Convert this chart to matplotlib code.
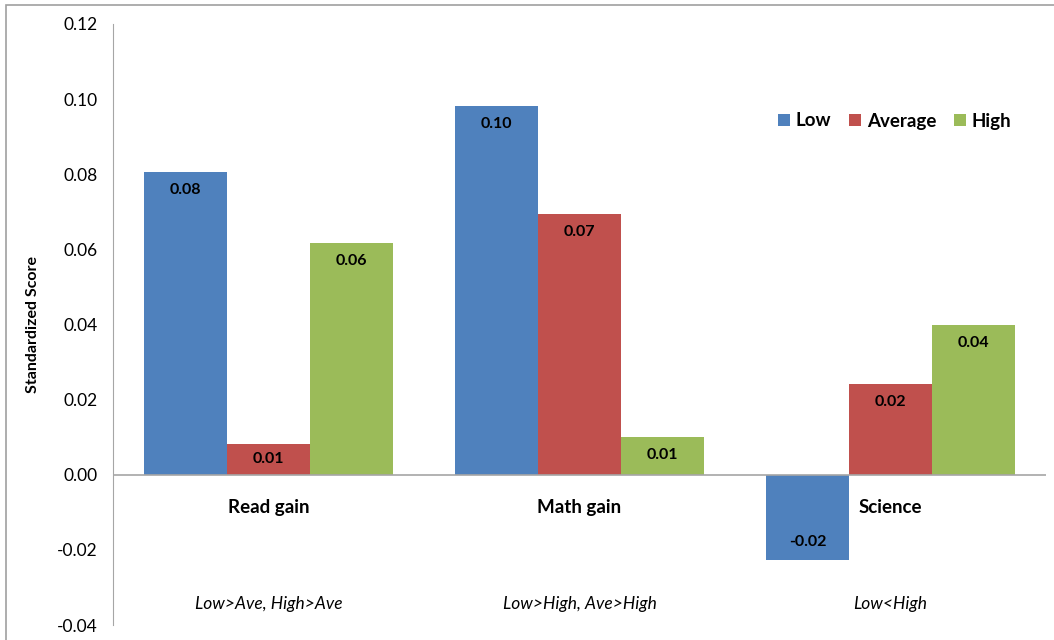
import numpy as n
import matplotlib
matplotlib.use("Agg")
import matplotlib.pyplot as plt
from matplotlib.patches import Rectangle

plt.rcParams['font.family'] = ['Lato', 'DejaVu Sans']

# data
categories = ["Read gain", "Math gain", "Science"]
notes = ["Low>Ave, High>Ave", "Low>High, Ave>High", "Low<High"]
series = ["Low", "Average", "High"]
low_vals = [0.0805, 0.0981, -0.0226]
avg_vals = [0.0082, 0.0694, 0.0242]
high_vals = [0.0617, 0.0101, 0.0399]
yticks = [-0.04, -0.02, 0.00, 0.02, 0.04, 0.06, 0.08, 0.10, 0.12]

colors = ["#4F81BD", "#C0504D", "#9BBB59"]

fig = plt.figure(figsize=(10.54, 6.4), dpi=100)
# outer chart border (cut off at right/bottom like the screenshot)
fig.patches.append(Rectangle((6/1054, -0.1), 1.2, 1 - 5/640 + 0.1,
                             transform=fig.transFigure, fill=False,
                             edgecolor="#A0A0A0", linewidth=1.2))

ax = fig.add_axes([113/1054, 1 - 625/640, (1046 - 113)/1054, (625 - 24)/640])

x = n.arange(len(categories))
w = 0.267
px_per_unit = 601 / 0.16

for i, (vals, name, c) in enumerate(zip([low_vals, avg_vals, high_vals], series, colors)):
    xs = x + (i - 1) * w
    ax.bar(xs, vals, width=w, color=c, label=name, zorder=2)
    for xi, v in zip(xs, vals):
        hpx = abs(v) * px_per_unit
        off = min(18, hpx / 2)
        sign = -1 if v >= 0 else 1
        ax.annotate(f"{v:.2f}", (xi, v), xytext=(0, sign * off * 0.72),
                    textcoords="offset points", ha="center", va="center",
                    fontsize=11.5, fontweight="bold", color="black")

ax.set_xlim(-0.5, 2.5)
ax.set_ylim(-0.04, 0.12)
ax.set_yticks(yticks)
ax.set_yticklabels([f"{t:.2f}" for t in yticks], fontsize=12.5)
ax.tick_params(axis="y", length=0, pad=11)
ax.set_xticks([])

for s in ["top", "right", "bottom"]:
    ax.spines[s].set_visible(False)
ax.spines["left"].set_color("#A6A6A6")
ax.axhline(0, color="#A6A6A6", linewidth=1.2, zorder=3)

for xi, cat, note in zip(x, categories, notes):
    ax.text(xi, -0.0088, cat, ha="center", va="center", fontsize=13.5, fontweight="bold")
    ax.text(xi, -0.0343, note, ha="center", va="center", fontsize=12.5, style="italic")

ax.set_ylabel("Standardized Score", fontsize=11.5, fontweight="bold")
ax.yaxis.set_label_coords((40 - 113)/933, 0.5)

ax.legend(loc="center left", bbox_to_anchor=((774 - 113)/933, 1 - (121 - 24)/601),
          ncol=3, frameon=False, prop={"weight": "bold", "size": 13.5},
          handlelength=0.65, handleheight=0.65, handletextpad=0.3,
          columnspacing=0.95, borderaxespad=0, borderpad=0.2)

plt.savefig("out.png", dpi=100)
